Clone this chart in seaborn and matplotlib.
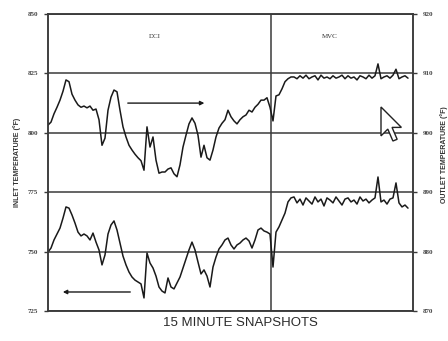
import matplotlib
matplotlib.use("Agg")
import matplotlib.pyplot as plt
import pandas as pd
import seaborn as sns
from matplotlib.patches import Polygon

# Outlet temperature (°F, right axis) for each 15-minute snapshot
outlet_temp = [
    901.3, 901.8, 903.2, 904.3, 905.5, 907.0, 908.9, 908.6, 906.5, 905.5,
    904.7, 904.3, 904.5, 904.2, 904.5, 903.8, 904.0, 902.2, 897.9, 899.1,
    903.8, 906.0, 907.2, 906.9, 903.8, 901.0, 899.3, 897.9, 897.1, 896.4,
    895.8, 895.3, 893.7, 901.0, 897.6, 899.3, 895.4, 893.2, 893.4, 893.4,
    893.9, 894.1, 893.1, 892.6, 894.6, 897.6, 899.6, 901.5, 902.5, 901.6,
    899.6, 895.9, 897.9, 895.8, 895.4, 897.1, 899.3, 900.8, 901.6, 902.2,
    903.8, 902.7, 902.0, 901.5, 902.2, 902.7, 903.0, 903.8, 903.5, 904.3,
    904.8, 905.5, 905.5, 905.9, 904.3, 902.0, 906.2, 906.4, 907.4, 908.6,
    909.1, 909.4,
    909.4, 909.1, 909.6, 909.2, 909.7, 909.1, 909.4, 909.6, 908.9, 909.7,
    909.2, 909.4, 909.1, 909.6, 909.2, 909.4, 909.7, 909.1, 909.6, 909.2,
    909.4, 908.9, 909.6, 909.4, 909.1, 909.7, 909.2, 909.6, 911.6, 909.1,
    909.4, 909.6, 909.2, 909.7, 910.7, 909.1, 909.4, 909.6, 909.2,
]

# Inlet temperature (°F, left axis) for each 15-minute snapshot
inlet_temp = [
    749.8, 751.5, 754.9, 757.4, 759.9, 764.1, 768.8, 768.3, 765.4, 762.0,
    758.2, 756.6, 757.4, 756.6, 754.9, 757.8, 754.0, 750.7, 744.4, 748.6,
    757.4, 761.2, 762.9, 759.1, 753.6, 748.1, 744.4, 741.4, 739.3, 738.0,
    737.2, 736.4, 730.5, 749.4, 745.2, 743.1, 739.7, 735.1, 733.4, 732.6,
    738.9, 735.1, 734.3, 736.8, 739.3, 743.1, 746.9, 750.7, 754.0, 750.7,
    745.6, 740.6, 742.3, 739.7, 735.1, 743.5, 747.7, 751.1, 752.8, 754.9,
    755.7, 752.8, 751.1, 752.8, 753.6, 754.9, 755.7, 754.5, 751.5, 754.9,
    759.1, 759.9, 758.7, 758.2, 757.4, 743.5, 758.2, 760.4, 763.3, 766.2,
    770.9, 772.6,
    773.0, 770.5, 772.1, 769.6, 772.6, 771.3, 770.0, 773.0, 770.9, 772.1,
    769.2, 772.6, 771.7, 770.5, 773.0, 771.3, 769.6, 772.1, 772.6, 770.9,
    771.7, 770.0, 773.0, 771.3, 772.1, 770.5, 771.7, 772.6, 781.4, 770.9,
    771.7, 770.0, 772.1, 772.6, 778.9, 770.5, 768.8, 769.6, 768.3,
]

snapshot = list(range(len(inlet_temp)))

inlet_ticks = [850, 825, 800, 775, 750, 725]
outlet_ticks = [920, 910, 900, 890, 880, 870]
mode_labels = ["DCI", "MVC"]
mvc_start = 74.3  # snapshot where the MVC period begins

sns.set_style("white")
plt.rcParams["font.family"] = ["Liberation Sans", "DejaVu Sans"]

W, H = 448, 341
fig = plt.figure(figsize=(W / 100, H / 100), dpi=100)
ax = fig.add_axes([48 / W, 1 - 311 / H, 365 / W, 297 / H])
ax2 = ax.twinx()

df = pd.DataFrame({"snapshot": snapshot, "inlet": inlet_temp, "outlet": outlet_temp})

line_col = "#1a1a1a"
grid_col = "#3a3a3a"

for t in inlet_ticks:
    ax.axhline(t, color=grid_col, lw=1.1, zorder=1)
ax.axvline(mvc_start, color=grid_col, lw=1.1, zorder=1)

sns.lineplot(data=df, x="snapshot", y="inlet", ax=ax, color=line_col, lw=1.1)
sns.lineplot(data=df, x="snapshot", y="outlet", ax=ax2, color=line_col, lw=1.1)

ax.set_xlim(0, 121.67)
ax.set_ylim(min(inlet_ticks), max(inlet_ticks))
ax2.set_ylim(min(outlet_ticks), max(outlet_ticks))

tick_font = dict(family=["Liberation Serif", "DejaVu Serif"], size=5, weight="bold")
ax.set_yticks(inlet_ticks)
ax.set_yticklabels([str(t) for t in inlet_ticks], color="#444444", **tick_font)
ax2.set_yticks(outlet_ticks)
ax2.set_yticklabels([str(t) for t in outlet_ticks], color="#444444", **tick_font)
ax.set_xticks([])
ax.set_xlabel("")
ax.set_ylabel("")
ax2.set_ylabel("")
ax.tick_params(axis="y", length=3, width=1, color=grid_col, pad=4)
ax2.tick_params(axis="y", length=3, width=1, color=grid_col, pad=4)

for a in (ax, ax2):
    for s in a.spines.values():
        s.set_color(grid_col)
        s.set_linewidth(1.1)

# Direction arrows for each trace
arrow = dict(arrowstyle="-|>", color=line_col, lw=1.0, mutation_scale=6)
ax.annotate("", xy=(0.436, 0.70), xytext=(0.211, 0.70),
            xycoords="axes fraction", arrowprops=arrow)
ax.annotate("", xy=(0.033, 0.064), xytext=(0.233, 0.064),
            xycoords="axes fraction", arrowprops=arrow)

serif = ["Liberation Serif", "DejaVu Serif"]
fig.text(155 / W, 1 - 37 / H, mode_labels[0], family=serif, size=5, color="#333333",
         ha="center", va="center")
fig.text(330 / W, 1 - 37 / H, mode_labels[1], family=serif, size=5, color="#333333",
         ha="center", va="center")

fig.text(17 / W, 1 - 162 / H, "INLET TEMPERATURE (°F)", rotation=90, size=5,
         color="#333333", weight="bold", ha="center", va="center")
fig.text(444 / W, 1 - 155 / H, "OUTLET TEMPERATURE (°F)", rotation=90, size=5,
         color="#333333", weight="bold", ha="center", va="center")
fig.text(240 / W, 1 - 323 / H, "15 MINUTE SNAPSHOTS", size=9.5, color="#2a2a2a",
         ha="center", va="center")

# Mouse pointer drawn over the traces
tip_x, tip_y, k = 381, 107, 1.7
shape = [(0, 0), (0, 17), (4, 13), (7, 20), (9.5, 19), (6.5, 12), (12, 12)]
pts = [((tip_x + k * dx) / W, 1 - (tip_y + k * dy) / H) for dx, dy in shape]
pointer = Polygon(pts, closed=True, facecolor="white", edgecolor="#222222",
                  lw=1.0, transform=fig.transFigure, zorder=20, clip_on=False)
ax2.add_patch(pointer)

fig.savefig("out.png", dpi=100)
